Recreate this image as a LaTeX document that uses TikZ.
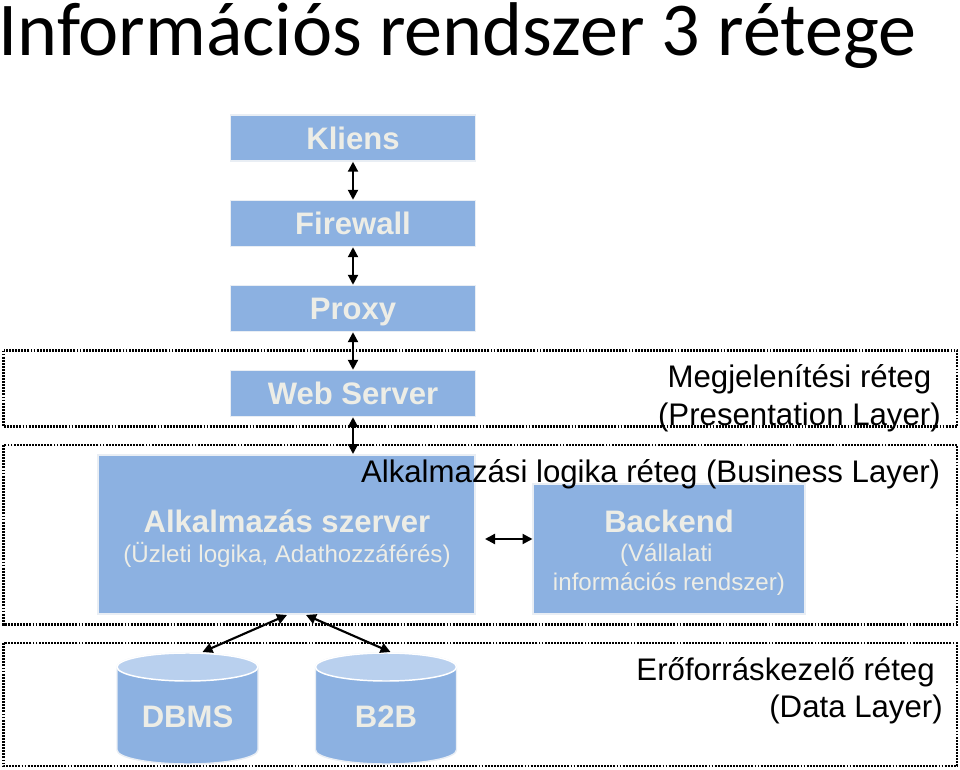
\documentclass[tikz,border=0pt]{standalone}
\usepackage{fontspec}
\setmainfont{Liberation Sans}
\newfontfamily\titlefont{Carlito}
\usetikzlibrary{arrows.meta,calc}
\definecolor{boxblue}{HTML}{8CB1E1}
\definecolor{boxedge}{HTML}{E9EEF4}
\definecolor{capblue}{HTML}{B9D0EE}
\definecolor{boxtext}{HTML}{EDEDE6}
\tikzset{
  px/.style={x=0.75pt,y=-0.75pt},
  tier/.style={draw=boxedge,line width=1.1pt,fill=boxblue,text=boxtext,inner sep=0pt,align=center,text height=17pt,text depth=0pt,font=\bfseries\fontsize{23.3}{26}\selectfont},
  boxtitle/.style={inner sep=0pt,text=boxtext,font=\bfseries\fontsize{23.3}{26}\selectfont},
  small/.style={text=boxtext,font=\fontsize{18.1}{22}\selectfont,align=center,inner sep=0pt},
  frame/.style={draw=black,line width=1.6pt,dash pattern=on 1.4pt off 0.9pt},
  link/.style={draw=black,line width=1.6pt,{Triangle[length=7.5pt,width=7.5pt]}-{Triangle[length=7.5pt,width=7.5pt]}},
  label/.style={text=black,inner sep=0pt,font=\fontsize{23.4}{28}\selectfont},
}
% cylinder centred on x: body with a lighter top face
\newcommand{\storebody}[1]{%
  \draw[draw=boxedge,line width=1.1pt,fill=boxblue]
    (#1-70.5,667) -- (#1-70.5,750) arc[start angle=180,end angle=0,x radius=70.5,y radius=14]
    -- (#1+70.5,667) arc[start angle=0,end angle=-180,x radius=70.5,y radius=14] -- cycle;
  \draw[draw=white,line width=1.1pt,fill=capblue] (#1,667) ellipse[x radius=70.5,y radius=14];
}
\begin{document}
\begin{tikzpicture}[px]
\useasboundingbox (0,0) rectangle (960,770);

% tier frames
\draw[frame] (3.5,350.5) rectangle (957,426.5);
\draw[frame] (3.5,445) rectangle (957,624.5);
\draw[frame] (3.5,643) rectangle (957,766);

% heading
\node[anchor=base west,inner sep=0pt,font=\titlefont\fontsize{57.1}{66}\selectfont] (title) at (-2,56) {Információs rendszer 3 rétege};

% front-end chain
\node[tier,minimum width=183.5pt,minimum height=34.5pt] (kliens) at (353,138) {Kliens};
\node[tier,minimum width=183.5pt,minimum height=34.5pt] (firewall) at (353,223.5) {Firewall};
\node[tier,minimum width=183.5pt,minimum height=34.5pt] (proxy) at (353,308.5) {Proxy};
\node[tier,minimum width=183.5pt,minimum height=34.5pt] (web) at (353,393.5) {Web Server};

% application tier
\node[tier,minimum width=282.5pt,minimum height=119pt] (app) at (286.5,534.5) {};
\node[boxtitle] (apptitle) at (287,521) {Alkalmazás szerver};
\node[small] (appsub) at (287,555) {(Üzleti logika, Adathozzáférés)};

\node[tier,minimum width=204pt,minimum height=97.5pt] (backend) at (669,549) {};
\node[boxtitle] (backtitle) at (669,521) {Backend};
\node[small] (backsub) at (669,569.5) {(Vállalati\kern4pt\mbox{}\\információs rendszer)};

% data stores
\storebody{187.5}
\storebody{386}
\node[boxtitle] (dbms) at (187.5,717) {DBMS};
\node[boxtitle] (b2b) at (386,717) {B2B};

% layer captions
\node[label,align=center,anchor=north east] (present) at (941,364.5) {Megjelenítési réteg\\(Presentation Layer)};
\node[label,anchor=east] (business) at (940.5,474) {Alkalmazási logika réteg (Business Layer)};
\node[label,align=right,anchor=north east] (datal) at (943,657) {Erőforráskezelő réteg\kern6pt\mbox{}\\(Data Layer)};

% connector ends
\coordinate (appL) at (287,615);
\coordinate (appR) at (306,615);
\coordinate (dbmsTop) at (202.5,652);
\coordinate (b2bTop) at (390.5,652);
\coordinate (syncL) at (485,539);
\coordinate (syncR) at (532.5,539);
\coordinate (appTop) at (353,454);

% connectors
\draw[link] (kliens.south) -- (firewall.north);
\draw[link] (firewall.south) -- (proxy.north);
\draw[link] (proxy.south) -- (web.north);
\draw[link] (web.south) -- (appTop);
\draw[link] (syncL) -- (syncR);
\draw[link] (dbmsTop) -- (appL);
\draw[link] (b2bTop) -- (appR);
\end{tikzpicture}
\end{document}
